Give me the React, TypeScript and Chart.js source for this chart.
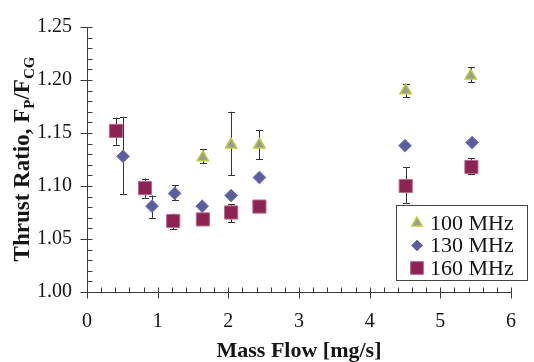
import { useEffect, useRef } from 'react';
import { Chart, registerables } from 'chart.js';

Chart.register(...registerables);

const SERIF = '"Liberation Serif", "Times New Roman", serif';

// 100 MHz (triangles)
const mhz100X = [1.64, 2.04, 2.44, 4.51, 5.43];
const mhz100Y = [1.127, 1.139, 1.139, 1.19, 1.204];
const mhz100Lo = [1.1215, 1.11, 1.1255, 1.184, 1.198];
const mhz100Hi = [1.1345, 1.17, 1.153, 1.196, 1.212];

// 130 MHz (diamonds)
const mhz130X = [0.51, 0.92, 1.24, 1.63, 2.04, 2.44, 4.5, 5.45];
const mhz130Y = [1.128, 1.081, 1.093, 1.081, 1.091, 1.108, 1.138, 1.141];
const mhz130Lo = [1.092, 1.07, 1.087, null, null, null, null, null];
const mhz130Hi = [1.165, 1.091, 1.1005, null, null, null, null, null];

// 160 MHz (squares)
const mhz160X = [0.41, 0.82, 1.22, 1.64, 2.04, 2.44, 4.51, 5.44];
const mhz160Y = [1.152, 1.098, 1.067, 1.0685, 1.075, 1.0806, 1.1, 1.118];
const mhz160Lo = [1.139, 1.089, 1.059, null, 1.066, null, 1.084, 1.1115];
const mhz160Hi = [1.1645, 1.107, 1.074, null, 1.083, null, 1.118, 1.126];

const seriesLabels = ['100 MHz', '130 MHz', '160 MHz'];
const xTickLabelsRange = { min: 0, max: 6, step: 1, minorStep: 0.2 };
const yTickLabelsRange = { min: 1.0, max: 1.25, step: 0.05, minorStep: 0.01 };
const xTitle = 'Mass Flow [mg/s]';
const yTitleParts = [
  { t: 'Thrust Ratio, F', sub: false },
  { t: 'P', sub: true },
  { t: '/F', sub: false },
  { t: 'CG', sub: true },
];

const STYLES = [
  { pointStyle: 'triangle', radius: 6.5, bg: '#9b9b8e', border: '#bccb3c', bw: 1.5 },
  { pointStyle: 'rectRot', radius: 6.4, bg: '#5a5e9c', border: '#767bb5', bw: 1 },
  { pointStyle: 'rect', radius: 9.3, bg: '#8d2352', border: '#b86a8e', bw: 1 },
];

const AXIS_COLOR = '#3a3a3a';
const TEXT_COLOR = '#151515';

function toPts(xs: number[], ys: number[]) {
  return xs.map((x, i) => ({ x, y: ys[i] }));
}

function drawMarker(ctx: CanvasRenderingContext2D, style: string, x: number, y: number, r: number) {
  ctx.beginPath();
  if (style === 'triangle') {
    ctx.moveTo(x, y - r);
    ctx.lineTo(x + r * Math.sin((2 * Math.PI) / 3), y + r / 2);
    ctx.lineTo(x - r * Math.sin((2 * Math.PI) / 3), y + r / 2);
    ctx.closePath();
  } else if (style === 'rectRot') {
    ctx.moveTo(x, y - r);
    ctx.lineTo(x + r, y);
    ctx.lineTo(x, y + r);
    ctx.lineTo(x - r, y);
    ctx.closePath();
  } else {
    const s = Math.SQRT1_2 * r;
    ctx.rect(x - s, y - s, 2 * s, 2 * s);
  }
}

const errorBarPlugin = {
  id: 'errorBars',
  beforeDatasetsDraw(chart: any) {
    const { ctx, scales } = chart;
    const xs = scales.x;
    const ys = scales.y;
    ctx.save();
    ctx.strokeStyle = '#333333';
    ctx.lineWidth = 1;
    chart.data.datasets.forEach((ds: any) => {
      ds.data.forEach((p: any, i: number) => {
        const lo = ds.errLo[i];
        const hi = ds.errHi[i];
        if (lo == null || hi == null) return;
        const px = Math.round(xs.getPixelForValue(p.x)) + 0.5;
        const y1 = ys.getPixelForValue(lo);
        const y2 = ys.getPixelForValue(hi);
        ctx.beginPath();
        ctx.moveTo(px, y1);
        ctx.lineTo(px, y2);
        ctx.moveTo(px - 3.5, Math.round(y1) + 0.5);
        ctx.lineTo(px + 3.5, Math.round(y1) + 0.5);
        ctx.moveTo(px - 3.5, Math.round(y2) + 0.5);
        ctx.lineTo(px + 3.5, Math.round(y2) + 0.5);
        ctx.stroke();
      });
    });
    ctx.restore();
  },
};

const axesPlugin = {
  id: 'customAxes',
  afterDraw(chart: any) {
    const { ctx, chartArea, scales } = chart;
    const xs = scales.x;
    const ys = scales.y;
    const left = Math.round(chartArea.left) + 0.5;
    const bottom = Math.round(chartArea.bottom) + 0.5;
    ctx.save();
    ctx.strokeStyle = AXIS_COLOR;
    ctx.lineWidth = 1;
    ctx.beginPath();
    ctx.moveTo(left, chartArea.top);
    ctx.lineTo(left, bottom);
    ctx.lineTo(chartArea.right, bottom);
    // x ticks
    const xr = xTickLabelsRange;
    const nx = Math.round((xr.max - xr.min) / xr.minorStep);
    for (let k = 0; k <= nx; k++) {
      const v = xr.min + k * xr.minorStep;
      const px = Math.round(xs.getPixelForValue(v)) + 0.5;
      const major = k % Math.round(xr.step / xr.minorStep) === 0;
      ctx.moveTo(px, bottom - 5);
      ctx.lineTo(px, major ? bottom + 6 : bottom);
    }
    // y ticks
    const yr = yTickLabelsRange;
    const ny = Math.round((yr.max - yr.min) / yr.minorStep);
    for (let k = 0; k <= ny; k++) {
      const v = yr.min + k * yr.minorStep;
      const py = Math.round(ys.getPixelForValue(v)) + 0.5;
      const major = k % Math.round(yr.step / yr.minorStep) === 0;
      ctx.moveTo(major ? left - 7 : left, py);
      ctx.lineTo(left + 5, py);
    }
    ctx.stroke();

    // x title
    ctx.fillStyle = TEXT_COLOR;
    ctx.font = 'bold 22px ' + SERIF;
    ctx.textAlign = 'center';
    ctx.textBaseline = 'alphabetic';
    ctx.fillText(xTitle, (chartArea.left + chartArea.right) / 2, 357);

    // y title (rotated, with subscripts)
    const mainFont = 'bold 23px ' + SERIF;
    const subFont = 'bold 15px ' + SERIF;
    let total = 0;
    const widths = yTitleParts.map((p) => {
      ctx.font = p.sub ? subFont : mainFont;
      const w = ctx.measureText(p.t).width;
      total += w;
      return w;
    });
    ctx.translate(29, 159);
    ctx.rotate(-Math.PI / 2);
    ctx.textAlign = 'left';
    let cx = -total / 2;
    yTitleParts.forEach((p, i) => {
      ctx.font = p.sub ? subFont : mainFont;
      ctx.fillText(p.t, cx, p.sub ? 5 : 0);
      cx += widths[i];
    });
    ctx.restore();

    // legend
    ctx.save();
    const bx = 396.5;
    const by = 205.5;
    const bw = 131;
    const bh = 75;
    ctx.fillStyle = '#ffffff';
    ctx.fillRect(bx, by, bw, bh);
    ctx.strokeStyle = '#444444';
    ctx.lineWidth = 1;
    ctx.strokeRect(bx, by, bw, bh);
    const rowY = [223, 245.5, 268];
    const legendR = [6, 5.5, 9];
    chart.data.datasets.forEach((ds: any, i: number) => {
      const st = STYLES[i];
      drawMarker(ctx, st.pointStyle, 417, rowY[i], legendR[i]);
      ctx.fillStyle = st.bg;
      ctx.fill();
      ctx.strokeStyle = st.border;
      ctx.lineWidth = st.bw;
      ctx.stroke();
      ctx.fillStyle = TEXT_COLOR;
      ctx.font = '22px ' + SERIF;
      ctx.textAlign = 'left';
      ctx.textBaseline = 'middle';
      ctx.fillText(ds.label, 430, rowY[i] + 1);
    });
    ctx.restore();
  },
};

export default function App() {
  const ref = useRef<HTMLCanvasElement | null>(null);

  useEffect(() => {
    if (!ref.current) return;
    const mk = (i: number, xs: number[], ys: number[], lo: any[], hi: any[]) => ({
      label: seriesLabels[i],
      data: toPts(xs, ys),
      errLo: lo,
      errHi: hi,
      pointStyle: STYLES[i].pointStyle,
      pointRadius: STYLES[i].radius,
      pointBackgroundColor: STYLES[i].bg,
      pointBorderColor: STYLES[i].border,
      pointBorderWidth: STYLES[i].bw,
      showLine: false,
    });
    const chart = new Chart(ref.current, {
      type: 'scatter',
      data: {
        datasets: [
          mk(0, mhz100X, mhz100Y, mhz100Lo, mhz100Hi),
          mk(1, mhz130X, mhz130Y, mhz130Lo, mhz130Hi),
          mk(2, mhz160X, mhz160Y, mhz160Lo, mhz160Hi),
        ] as any,
      },
      options: {
        responsive: false,
        animation: false,
        events: [],
        layout: { padding: { top: 17, right: 7, left: 0, bottom: 0 } },
        plugins: {
          legend: { display: false },
          tooltip: { enabled: false },
        },
        scales: {
          x: {
            type: 'linear',
            min: xTickLabelsRange.min,
            max: xTickLabelsRange.max,
            grid: { display: false, drawTicks: false },
            border: { display: false },
            ticks: {
              stepSize: xTickLabelsRange.step,
              padding: 18,
              color: TEXT_COLOR,
              font: { family: SERIF, size: 20 },
              maxRotation: 0,
            },
            afterFit: (s: any) => {
              s.height = 70;
            },
          },
          y: {
            type: 'linear',
            min: yTickLabelsRange.min,
            max: yTickLabelsRange.max,
            grid: { display: false, drawTicks: false },
            border: { display: false },
            ticks: {
              stepSize: yTickLabelsRange.step,
              padding: 15,
              color: TEXT_COLOR,
              font: { family: SERIF, size: 20 },
              callback: (v: any) => Number(v).toFixed(2),
            },
            afterFit: (s: any) => {
              s.width = 87;
            },
          },
        },
      },
      plugins: [errorBarPlugin, axesPlugin],
    });
    return () => chart.destroy();
  }, []);

  return (
    <div style={{ position: 'fixed', left: 0, top: 0, width: 534, height: 362, background: '#fff' }}>
      <canvas ref={ref} width={534} height={362} style={{ display: 'block' }} />
    </div>
  );
}
